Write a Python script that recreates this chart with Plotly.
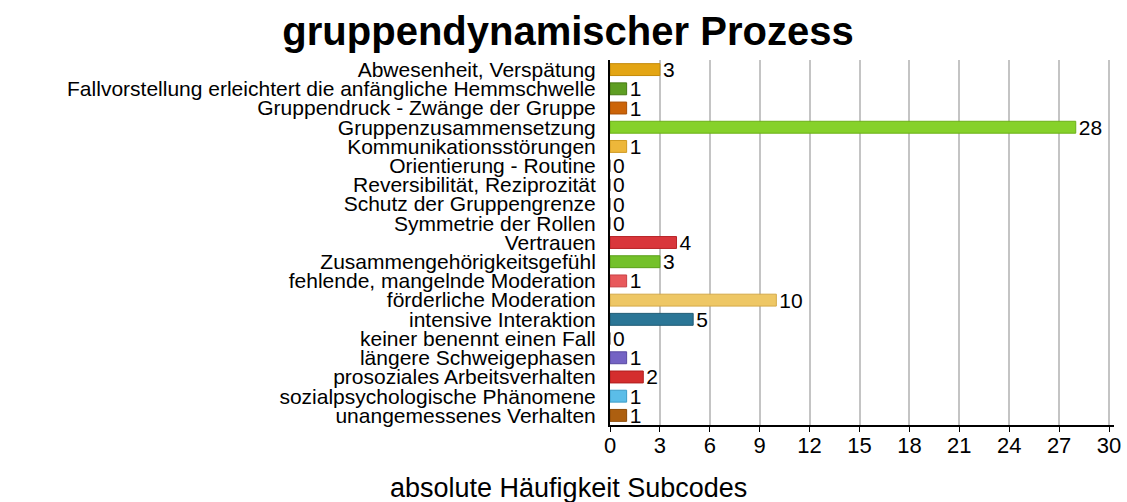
import plotly.graph_objects as go

categories = [
    "Abwesenheit, Verspätung",
    "Fallvorstellung erleichtert die anfängliche Hemmschwelle",
    "Gruppendruck - Zwänge der Gruppe",
    "Gruppenzusammensetzung",
    "Kommunikationsstörungen",
    "Orientierung - Routine",
    "Reversibilität, Reziprozität",
    "Schutz der Gruppengrenze",
    "Symmetrie der Rollen",
    "Vertrauen",
    "Zusammengehörigkeitsgefühl",
    "fehlende, mangelnde Moderation",
    "förderliche Moderation",
    "intensive Interaktion",
    "keiner benennt einen Fall",
    "längere Schweigephasen",
    "prosoziales Arbeitsverhalten",
    "sozialpsychologische Phänomene",
    "unangemessenes Verhalten",
]
values = [3, 1, 1, 28, 1, 0, 0, 0, 0, 4, 3, 1, 10, 5, 0, 1, 2, 1, 1]
colors = [
    "#E3A514", "#5E9E22", "#CC6408", "#86D12A", "#EDB73A",
    "#999999", "#999999", "#999999", "#999999",
    "#D9363B", "#74C12A", "#E8595B", "#EEC765", "#2B7696",
    "#999999", "#7463C4", "#D42E2E", "#5BBDE8", "#AD5F10",
]
borders = [
    "#C48A08", "#467A14", "#A84E04", "#6CB018", "#CF9A22",
    "#777777", "#777777", "#777777", "#777777",
    "#B82428", "#5AA018", "#C84046", "#D4AA48", "#1E5A74",
    "#777777", "#5848A0", "#B01E1E", "#3C9CC8", "#8C4A08",
]
x_ticks = list(range(0, 31, 3))

FONT = "Liberation Sans, Arial, sans-serif"
W, H = 1127, 502
ML, MR, MT, MB = 610, 13, 60, 77
PW, PH = W - ML - MR, H - MT - MB

fig = go.Figure(
    go.Bar(
        x=values,
        y=categories,
        orientation="h",
        marker=dict(color=colors, line=dict(color=borders, width=1)),
        text=[str(v) for v in values],
        textposition="outside",
        constraintext="none",
        cliponaxis=False,
        textfont=dict(family=FONT, size=21, color="black"),
        outsidetextfont=dict(family=FONT, size=21, color="black"),
        width=0.62,
    )
)

fig.update_layout(
    width=W,
    height=H,
    margin=dict(l=ML, r=MR, t=MT, b=MB, autoexpand=False),
    plot_bgcolor="white",
    paper_bgcolor="white",
    showlegend=False,
    font=dict(family=FONT, color="black"),
    title=dict(
        text="<b>gruppendynamischer Prozess</b>",
        x=568 / W, xref="container", xanchor="center",
        y=1 - 31 / H, yref="container", yanchor="middle",
        font=dict(family=FONT, size=40, color="black"),
    ),
)
fig.add_annotation(
    text="absolute Häufigkeit Subcodes",
    xref="paper", yref="paper",
    x=(568 - ML) / PW, y=-(488 - (MT + PH)) / PH,
    xanchor="center", yanchor="middle",
    showarrow=False,
    font=dict(family=FONT, size=27, color="black"),
)

fig.update_xaxes(
    range=[0, 30.3],
    tickmode="array",
    tickvals=x_ticks,
    ticktext=[str(t) for t in x_ticks],
    showgrid=True,
    gridcolor="#C4C4C4",
    gridwidth=2,
    zeroline=False,
    showline=True,
    linecolor="black",
    linewidth=2,
    ticks="outside",
    ticklen=5,
    tickcolor="black",
    ticklabelstandoff=-5,
    automargin=False,
    tickfont=dict(family=FONT, size=22, color="black"),
)
fig.update_yaxes(
    autorange="reversed",
    tickmode="array",
    tickvals=categories,
    ticktext=categories,
    showline=True,
    linecolor="black",
    linewidth=2,
    ticks="",
    automargin=False,
    ticklabelstandoff=8,
    tickfont=dict(family=FONT, size=21, color="black"),
)

fig.write_html(
    "out.html",
    config={"displayModeBar": False},
    post_script="document.body.style.margin='0';document.body.style.overflow='hidden';",
)
